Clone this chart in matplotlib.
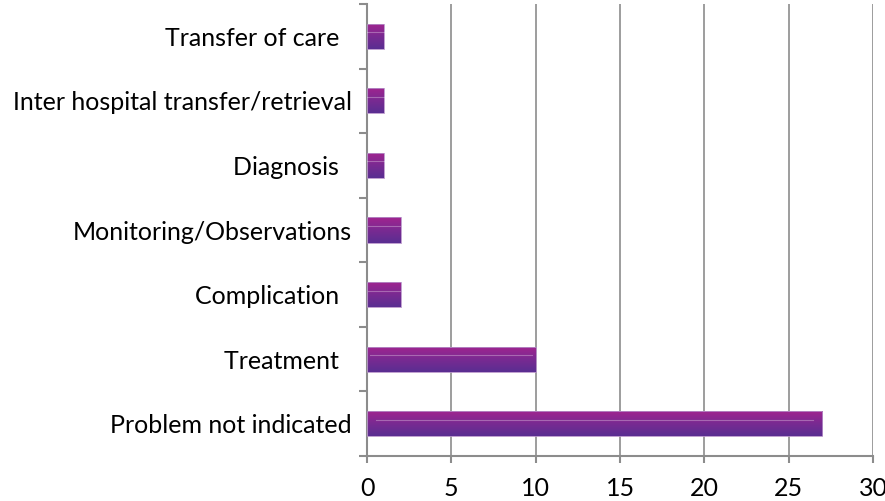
import numpy as np
import matplotlib.pyplot as plt
from matplotlib.colors import LinearSegmentedColormap

categories = ['Problem not indicated', 'Treatment  ', 'Complication  ',
              'Monitoring/Observations', 'Diagnosis  ',
              'Inter hospital transfer/retrieval', 'Transfer of care  ']
values = [27, 10, 2, 2, 1, 1, 1]
xticks = [0, 5, 10, 15, 20, 25, 30]

plt.rcParams['font.family'] = ['Lato', 'DejaVu Sans']

fig = plt.figure(figsize=(8.85, 5.01), dpi=100)
ax = fig.add_axes([0.4147, 0.0898, 0.5718, 0.9022])

cmap = LinearSegmentedColormap.from_list('purp', ['#5a2e91', '#7a2a92', '#a2248f'])
grad = np.linspace(0, 1, 64).reshape(-1, 1)
h = 0.39
y = np.arange(len(categories))
bars = ax.barh(y, values, height=h, color='none', edgecolor='#b58fc8', linewidth=0.6, zorder=3)
for b in bars:
    x0, y0 = b.get_x(), b.get_y()
    w, hh = b.get_width(), b.get_height()
    im = ax.imshow(grad, cmap=cmap, aspect='auto', origin='lower',
                   extent=[x0, x0 + w, y0, y0 + hh], zorder=2)
    im.set_clip_path(b)
    # faint highlight
    ax.plot([x0 + 0.02 * w, x0 + w * 0.98], [y0 + hh * 0.66] * 2,
            color='white', alpha=0.3, lw=0.8, zorder=4)

ax.set_xlim(0, 30)
ax.set_ylim(-0.5, len(categories) - 0.5)
ax.set_xticks(xticks)
ax.set_yticks(y)
ax.set_yticklabels(categories)
ax.set_yticks(np.arange(-0.5, len(categories), 1), minor=True)
ax.tick_params(axis='y', which='major', length=0, pad=11, labelsize=18)
ax.tick_params(axis='y', which='minor', length=6, width=1.5, color='#8c8c8c', direction='out')
ax.tick_params(axis='x', length=5, width=1.5, color='#8c8c8c', labelsize=18, pad=10)
ax.grid(axis='x', color='#8c8c8c', lw=1.2, zorder=0)
ax.set_axisbelow(True)
for s in ['top', 'right']:
    ax.spines[s].set_visible(False)
for s in ['left', 'bottom']:
    ax.spines[s].set_color('#8c8c8c')
    ax.spines[s].set_linewidth(1.5)

fig.savefig('out.png', dpi=100)
